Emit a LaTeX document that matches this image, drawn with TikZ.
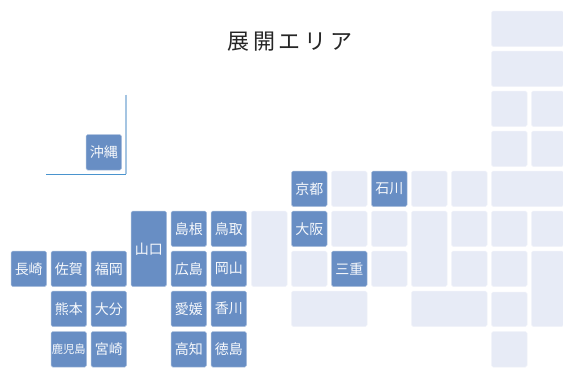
\documentclass[tikz,border=0pt]{standalone}
\usepackage{fontspec}
\setmainfont{Noto Sans CJK JP}
\definecolor{dk}{HTML}{688EC4}
\definecolor{lt}{HTML}{E7EBF6}
\definecolor{frameV}{HTML}{A5C5E2}
\definecolor{frameH}{HTML}{4A94CE}
\tikzset{x=1pt,y=-1pt,
 cell/.style={rounded corners=1.6pt,inner sep=0pt,outer sep=0pt,text=white!95!dk,font=\fontsize{14}{15}\selectfont},
 on/.style={cell,fill=dk,draw=dk!55!white,line width=.5pt},
 off/.style={cell,fill=lt,draw=lt!60!white,line width=.5pt}}
\newcommand{\pref}[7]{\node[#1,minimum width=#4 pt,minimum height=#5 pt,anchor=north west] (#6) at (#2,#3) {#7};}
\begin{document}
\begin{tikzpicture}
\useasboundingbox (0,0) rectangle (563,368);
\fill[white] (0,0) rectangle (563,368);
\node[text=black!85,font=\fontsize{22}{24}\selectfont,inner sep=0pt] (title) at (290,42) {展\hspace{3.8pt}開\hspace{3.8pt}エ\hspace{3.8pt}リ\hspace{3.8pt}ア};
% light
\pref{off}{491.5}{11}{72}{35.5}{a1}{}
\pref{off}{491.5}{51}{72}{35.5}{a2}{}
\pref{off}{491.5}{91}{35.5}{35.5}{a3}{}
\pref{off}{531.5}{91}{32}{35.5}{a4}{}
\pref{off}{491.5}{131}{35.5}{35.5}{a5}{}
\pref{off}{531.5}{131}{32}{35.5}{a6}{}
\pref{off}{331.5}{171}{35.5}{35.5}{b1}{}
\pref{off}{411.5}{171}{35.5}{35.5}{b2}{}
\pref{off}{451.5}{171}{35.5}{35.5}{b3}{}
\pref{off}{491.5}{171}{72}{35.5}{b4}{}
\pref{off}{251.5}{211}{35.5}{75.5}{c1}{}
\pref{off}{331.5}{211}{35.5}{35.5}{c2}{}
\pref{off}{371.5}{211}{35.5}{35.5}{c3}{}
\pref{off}{411.5}{211}{35.5}{75.5}{c4}{}
\pref{off}{451.5}{211}{35.5}{35.5}{c5}{}
\pref{off}{491.5}{211}{35.5}{35.5}{c6}{}
\pref{off}{531.5}{211}{32}{35.5}{c7}{}
\pref{off}{291.5}{251}{35.5}{35.5}{d1}{}
\pref{off}{371.5}{251}{35.5}{35.5}{d2}{}
\pref{off}{451.5}{251}{35.5}{35.5}{d3}{}
\pref{off}{491.5}{251}{35.5}{35.5}{d4}{}
\pref{off}{531.5}{251}{32}{75.5}{d5}{}
\pref{off}{291.5}{291}{75.5}{35.5}{e1}{}
\pref{off}{411.5}{291}{75.5}{35.5}{e2}{}
\pref{off}{491.5}{292}{35.5}{34.5}{e3}{}
\pref{off}{491.5}{331.5}{35.5}{35.5}{e4}{}
% dark
\pref{on}{86}{134.5}{35.5}{35.5}{oki}{沖縄}
\pref{on}{291.5}{171}{35.5}{35.5}{kyo}{京都}
\pref{on}{371.5}{171}{35.5}{35.5}{ish}{石川}
\pref{on}{291.5}{211}{35.5}{35.5}{osa}{大阪}
\pref{on}{331.5}{251}{35.5}{35.5}{mie}{三重}
\pref{on}{131}{211}{35.5}{75.5}{yam}{山口}
\pref{on}{171}{211}{35.5}{35.5}{shi}{島根}
\pref{on}{211}{211}{35.5}{35.5}{tot}{鳥取}
\pref{on}{171}{251}{35.5}{35.5}{hir}{広島}
\pref{on}{211}{251}{35.5}{35.5}{oka}{岡山}
\pref{on}{171}{291}{35.5}{35.5}{ehi}{愛媛}
\pref{on}{211}{291}{35.5}{35.5}{kag}{香川}
\pref{on}{171}{331.5}{35.5}{35.5}{koc}{高知}
\pref{on}{211}{331.5}{35.5}{35.5}{tok}{徳島}
\pref{on}{11}{251}{35.5}{35.5}{nag}{長崎}
\pref{on}{51}{251}{35.5}{35.5}{sag}{佐賀}
\pref{on}{91}{251}{35.5}{35.5}{fuk}{福岡}
\pref{on}{51}{291}{35.5}{35.5}{kum}{熊本}
\pref{on}{91}{291}{35.5}{35.5}{oit}{大分}
\node[on,minimum width=35.5pt,minimum height=35.5pt,anchor=north west,font=\fontsize{11.3}{13}\selectfont] (kgs) at (51,331.5) {鹿児島};
\pref{on}{91}{331.5}{35.5}{35.5}{miy}{宮崎}
% Okinawa frame
\coordinate (fa) at (126,94.5);
\coordinate (fb) at (126,174.2);
\coordinate (fc) at (45.5,174.2);
\draw[draw=frameV,line width=1.2pt] (fa) -- (fb);
\draw[draw=frameH,line width=.9pt] (fb) -- (fc);
\end{tikzpicture}
\end{document}
